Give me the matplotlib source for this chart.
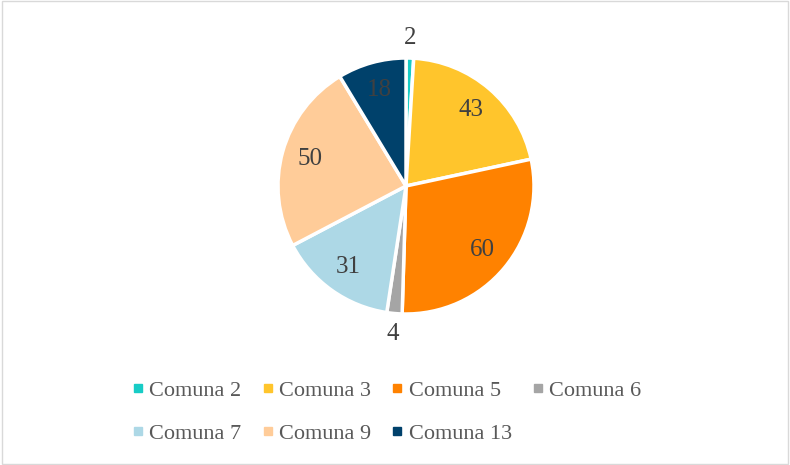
import math
import matplotlib.pyplot as plt
from matplotlib.lines import Line2D
from matplotlib.patches import Rectangle

labels = ['Comuna 2', 'Comuna 3', 'Comuna 5', 'Comuna 6',
          'Comuna 7', 'Comuna 9', 'Comuna 13']
values = [2, 43, 60, 4, 31, 50, 18]
colors = ['#17CCC6', '#FFC52C', '#FF8200', '#A5A5A5',
          '#ADD8E6', '#FFCC99', '#00416B']

plt.rcParams['font.family'] = ['Liberation Serif', 'DejaVu Serif']

fig = plt.figure(figsize=(7.9, 4.65), dpi=100)
fig.patches.append(Rectangle((0.002, 0.002), 0.996, 0.996, transform=fig.transFigure,
                             fill=False, edgecolor='#D9D9D9', linewidth=1))

# pie area in pixels: centre and radius
cx, cy, r = 406, 186, 128
ax = fig.add_axes([(cx - r) / 790, 1 - (cy + r) / 465, 2 * r / 790, 2 * r / 465])

wedges, _ = ax.pie(values, colors=colors, startangle=90, counterclock=False,
                   radius=1, wedgeprops=dict(edgecolor='white', linewidth=2.5))
ax.set_xlim(-1, 1)
ax.set_ylim(-1, 1)
ax.set_aspect('auto')

total = sum(values)
start = 90.0
for v in values:
    ang = start - v / total * 360 / 2
    start -= v / total * 360
    dist = 1.16 if v < 10 else 0.78
    x = dist * math.cos(math.radians(ang))
    y = dist * math.sin(math.radians(ang))
    ax.text(x, y, str(v), ha='center', va='center', fontsize=18, color='#404040')

# legend filled row by row: reorder for matplotlib's column-wise fill
order = [0, 4, 1, 5, 2, 6, 3]
handles = [Line2D([], [], marker='s', linestyle='none', markersize=6,
                  markerfacecolor=colors[i], markeredgecolor=colors[i]) for i in order]
fig.legend(handles, [labels[i] for i in order], ncol=4, loc='center',
           bbox_to_anchor=(0.489, 0.114), frameon=False, fontsize=16,
           labelcolor='#595959', handlelength=0.6, handletextpad=0.2,
           columnspacing=0.9, labelspacing=1.03)

fig.savefig('out.png', dpi=100)
